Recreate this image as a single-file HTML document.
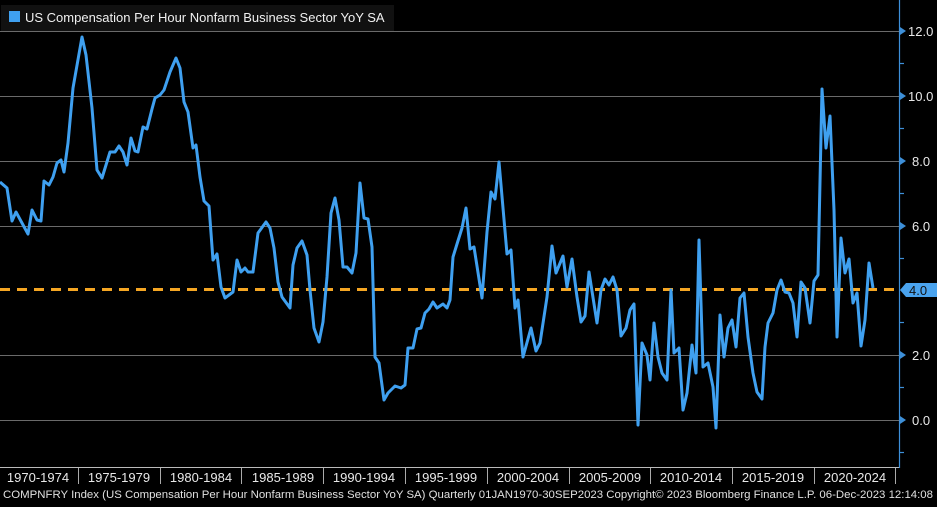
<!DOCTYPE html>
<html><head><meta charset="utf-8"><style>
body{margin:0;background:#000;width:937px;height:502px;overflow:hidden}
text{font-family:"Liberation Sans","DejaVu Sans",sans-serif}
</style></head><body>
<svg width="937" height="502" xmlns="http://www.w3.org/2000/svg">
<rect width="937" height="502" fill="#000"/>
<g stroke="#6a6a6a" stroke-width="1">
<line x1="0" y1="31.5" x2="899" y2="31.5"/><line x1="0" y1="96.5" x2="899" y2="96.5"/>
<line x1="0" y1="161.5" x2="899" y2="161.5"/><line x1="0" y1="226.5" x2="899" y2="226.5"/>
<line x1="0" y1="355.5" x2="899" y2="355.5"/><line x1="0" y1="420.5" x2="899" y2="420.5"/>
</g>
<line x1="899.5" y1="0" x2="899.5" y2="468" stroke="#3d8fd8" stroke-width="1.2"/>
<g stroke="#3d8fd8" stroke-width="1.2">
<line x1="899" y1="63.5" x2="904" y2="63.5"/><line x1="899" y1="128.5" x2="904" y2="128.5"/>
<line x1="899" y1="193.5" x2="904" y2="193.5"/><line x1="899" y1="258.5" x2="904" y2="258.5"/>
<line x1="899" y1="322.5" x2="904" y2="322.5"/><line x1="899" y1="387.5" x2="904" y2="387.5"/>
<line x1="899" y1="452.5" x2="904" y2="452.5"/>
</g>
<g fill="#3d8fd8">
<polygon points="900,27 906,31 900,35"/><polygon points="900,92 906,96 900,100"/>
<polygon points="900,157 906,161 900,165"/><polygon points="900,222 906,226 900,230"/>
<polygon points="900,351 906,355 900,359"/><polygon points="900,416 906,420 900,424"/>
</g>
<g fill="#e8e8e8" font-size="13">
<text x="908" y="36">12.0</text><text x="908" y="101">10.0</text><text x="912" y="166">8.0</text>
<text x="912" y="231">6.0</text><text x="912" y="360">2.0</text><text x="912" y="425">0.0</text>
</g>
<polygon points="900,290 906,283 937,283 937,297 906,297" fill="#4aa3ee"/>
<text x="909" y="295" font-size="13" fill="#111">4.0</text>
<line x1="0" y1="289.5" x2="899" y2="289.5" stroke="#f5a623" stroke-width="3" stroke-dasharray="10,7"/>
<polyline fill="none" stroke="#3fa0f0" stroke-width="3" stroke-linejoin="round" points="0,182 7,188 12,221 16,212 28,234 32,210 37,220 41,221 44,181 49,185 53,177 57,163 61,160 64,172 68,143 73,88 82,37 86,55 92,108 97,170 102,178 106,165 110,152 115,152 119,146 123,152 127,165 131,138 135,151 138,152 143,127 147,129 152,109 155,98 160,95 164,90 170,72 176,58 180,68 184,102 188,112 193,148 196,145 200,177 204,201 209,206 213,260 217,254 221,287 225,298 233,292 237,260 241,272 245,268 248,272 253,272 258,233 266,222 270,228 274,248 278,282 282,297 290,308 293,265 297,248 302,241 307,255 310,290 314,328 319,342 323,322 327,277 331,213 335,198 339,220 343,267 347,267 352,273 356,253 360,183 364,218 368,219 372,247 375,357 379,363 384,400 388,393 395,386 401,388 405,385 408,348 413,348 417,329 421,328 425,313 429,309 433,302 437,308 443,304 447,308 450,300 453,257 457,244 462,228 466,208 470,249 474,247 482,298 487,232 491,192 495,199 499,162 503,208 507,254 511,250 515,308 518,300 523,357 531,328 536,351 540,343 547,297 552,246 556,273 563,256 567,287 572,259 577,297 581,322 585,316 589,272 597,323 601,290 605,279 609,285 613,277 617,290 621,336 626,328 630,310 634,304 638,425 642,343 647,355 650,380 654,323 658,357 662,373 667,380 671,290 674,353 679,348 683,410 687,393 692,345 696,373 699,240 703,367 708,363 713,387 716,428 720,315 724,357 728,328 732,320 736,347 740,298 744,293 748,337 753,373 757,392 762,399 765,347 768,323 773,313 777,290 781,280 785,292 789,293 793,303 797,337 801,282 805,288 810,323 814,281 818,275 822,89 826,148 830,116 834,210 837,337 841,238 845,273 849,259 853,303 857,293 861,346 865,320 869,263 873,288"/>
<rect x="1" y="5" width="393" height="26" fill="#111"/>
<rect x="9" y="11" width="11" height="11" fill="#3fa0f0"/>
<text x="25" y="22" font-size="13" fill="#f0f0f0">US Compensation Per Hour Nonfarm Business Sector YoY SA</text>
<line x1="0" y1="467.5" x2="899" y2="467.5" stroke="#bbb" stroke-width="1"/>
<g stroke="#aaa" stroke-width="1">
<line x1="78.5" y1="468" x2="78.5" y2="484"/><line x1="160.5" y1="468" x2="160.5" y2="484"/>
<line x1="241.5" y1="468" x2="241.5" y2="484"/><line x1="323.5" y1="468" x2="323.5" y2="484"/>
<line x1="405.5" y1="468" x2="405.5" y2="484"/><line x1="487.5" y1="468" x2="487.5" y2="484"/>
<line x1="569.5" y1="468" x2="569.5" y2="484"/><line x1="650.5" y1="468" x2="650.5" y2="484"/>
<line x1="732.5" y1="468" x2="732.5" y2="484"/><line x1="814.5" y1="468" x2="814.5" y2="484"/>
<line x1="895.5" y1="468" x2="895.5" y2="484"/>
</g>
<g fill="#e8e8e8" font-size="13" text-anchor="middle">
<text x="38" y="482">1970-1974</text><text x="119" y="482">1975-1979</text><text x="201" y="482">1980-1984</text>
<text x="283" y="482">1985-1989</text><text x="364" y="482">1990-1994</text><text x="446" y="482">1995-1999</text>
<text x="528" y="482">2000-2004</text><text x="610" y="482">2005-2009</text><text x="691" y="482">2010-2014</text>
<text x="773" y="482">2015-2019</text><text x="855" y="482">2020-2024</text>
</g>
<text x="3" y="498" font-size="11" fill="#e0e0e0" textLength="930" lengthAdjust="spacingAndGlyphs">COMPNFRY Index (US Compensation Per Hour Nonfarm Business Sector YoY SA)  Quarterly 01JAN1970-30SEP2023  Copyright© 2023 Bloomberg Finance L.P.  06-Dec-2023 12:14:08</text>
</svg>
</body></html>
